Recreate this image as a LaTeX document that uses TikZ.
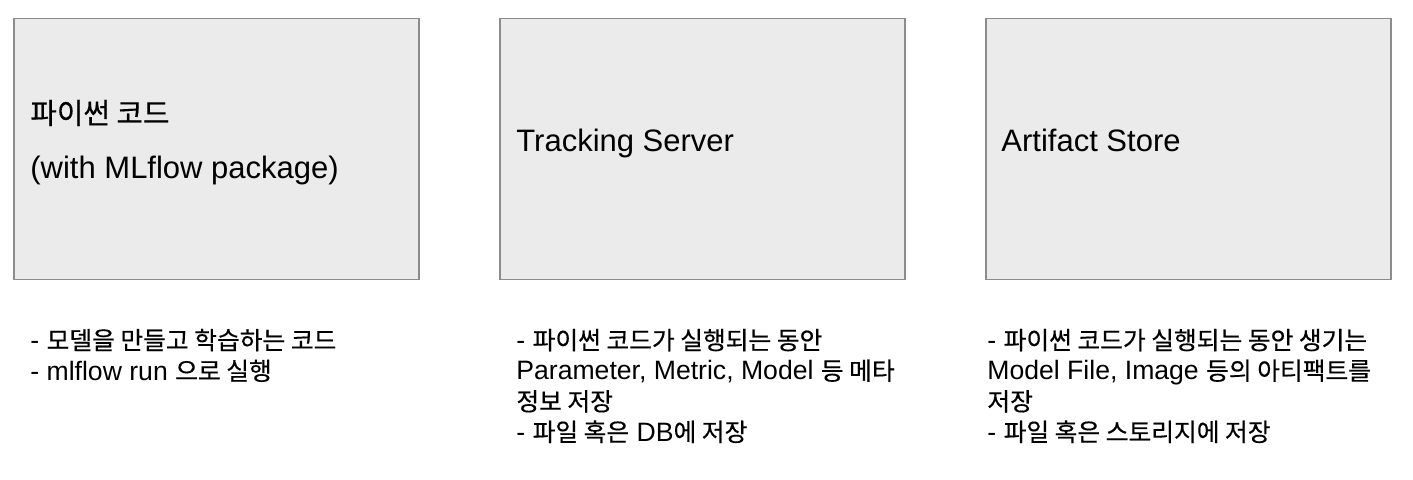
\documentclass[tikz,border=0pt]{standalone}
\usepackage{fontspec}
\setmainfont{Liberation Sans}
\newfontfamily\kr[Scale=0.93, FakeBold=0.4]{Noto Sans CJK KR}
\usetikzlibrary{positioning}
\definecolor{boxfill}{HTML}{EBEBEB}
\definecolor{boxline}{HTML}{8C8C8C}

\begin{document}
\begin{tikzpicture}[x=0.5pt, y=-0.5pt,
    part/.style={draw=boxline, fill=boxfill, line width=0.75pt, minimum width=202.5pt, minimum height=130.5pt, inner sep=0pt, anchor=north west},
    title/.style={inner sep=0pt, align=left, font=\fontsize{15.5}{27.5}\selectfont},
    note/.style={inner sep=0pt, align=left, font=\fontsize{13.3}{15.3}\selectfont},
]
\useasboundingbox (0,0) rectangle (1413,480);
% components
\node[part] (code) at (13,18) {};
\node[part] (server) at (499,18) {};
\node[part] (store) at (985,18) {};
\node[title, right=8.5pt of code.west, yshift=3.35pt] (codename) {{\kr 파이썬 코드}\\(with MLflow package)};
\node[title, right=8.5pt of server.west, anchor=base west, yshift=-1.25pt] (servername) {Tracking Server};
\node[title, right=8pt of store.west, anchor=base west, yshift=-1.25pt] (storename) {Artifact Store};
% descriptions
\node[note, below right=24pt and 8.5pt of code.south west] (codenote) {- {\kr 모델을 만들고 학습하는 코드}\\- mlflow run {\kr 으로 실행}};
\node[note, below right=24pt and 8.5pt of server.south west] (servernote) {- {\kr 파이썬 코드가 실행되는 동안}\\Parameter, Metric, Model {\kr 등 메타}\\{\kr 정보 저장}\\- {\kr 파일 혹은} DB{\kr 에 저장}};
\node[note, below right=24pt and 1pt of store.south west] (storenote) {- {\kr 파이썬 코드가 실행되는 동안 생기는}\\Model File, Image {\kr 등의 아티팩트를}\\{\kr 저장}\\- {\kr 파일 혹은 스토리지에 저장}};
\end{tikzpicture}
\end{document}
